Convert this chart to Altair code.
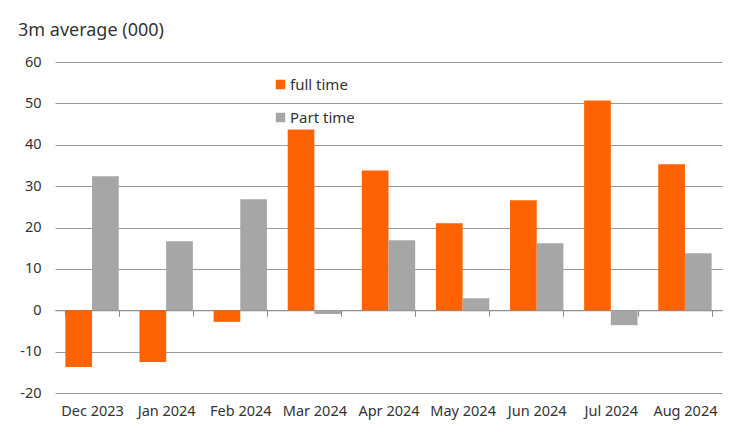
import altair as alt
import pandas as pd

months = ["Dec 2023", "Jan 2024", "Feb 2024", "Mar 2024", "Apr 2024",
          "May 2024", "Jun 2024", "Jul 2024", "Aug 2024"]
full_time = [-13.7, -12.5, -2.8, 43.7, 33.8, 21.0, 26.6, 50.7, 35.3]
part_time = [32.4, 16.7, 26.8, -0.9, 16.9, 2.9, 16.2, -3.6, 13.8]
series = ["full time", "Part time"]
colors = ["#FF6200", "#A6A6A6"]
y_ticks = [-20, -10, 0, 10, 20, 30, 40, 50, 60]

rows = []
for m, f, p in zip(months, full_time, part_time):
    rows.append({"month": m, "series": series[0], "value": f})
    rows.append({"month": m, "series": series[1], "value": p})
df = pd.DataFrame(rows)

FONT = "Noto Sans"
TXT = "#333333"

chart = alt.Chart(df).mark_bar().encode(
    x=alt.X("month:N", sort=months, title=None,
            scale=alt.Scale(paddingInner=0.28, paddingOuter=0.14),
            axis=alt.Axis(labelAngle=0, tickBand="extent", grid=False,
                          domainColor="#8c8c8c", tickColor="#8c8c8c",
                          tickSize=6, offset=-82.75, labelPadding=88,
                          labelFontSize=14.5, labelColor=TXT, labelFont=FONT)),
    xOffset=alt.XOffset("series:N", sort=series, scale=alt.Scale(domain=series)),
    y=alt.Y("value:Q", title=None,
            scale=alt.Scale(domain=[-20, 60], nice=False),
            axis=alt.Axis(values=y_ticks, domain=False, ticks=False,
                          labelExpr="'' + datum.value",
                          gridColor="#9a9a9a", gridWidth=1, labelPadding=14,
                          labelFontSize=14.5, labelColor=TXT, labelFont=FONT)),
    color=alt.Color("series:N", scale=alt.Scale(domain=series, range=colors),
                    legend=alt.Legend(orient="none", legendX=218, legendY=15,
                                      title=None, symbolType="square",
                                      symbolSize=90, symbolStrokeWidth=0,
                                      labelFontSize=15, labelColor=TXT,
                                      labelFont=FONT, rowPadding=17,
                                      labelOffset=2)),
).properties(
    width=667, height=331,
    title=alt.TitleParams("3m average (000)", anchor="start", frame="group",
                          dx=-37, offset=0, baseline="alphabetic",
                          fontSize=18, fontWeight="normal", color=TXT, font=FONT),
    autosize="none",
    padding={"left": 47, "top": 54, "right": 14, "bottom": 30},
).configure_view(stroke=None)

chart.save("out.html", embed_options={"renderer": "svg", "actions": False})
